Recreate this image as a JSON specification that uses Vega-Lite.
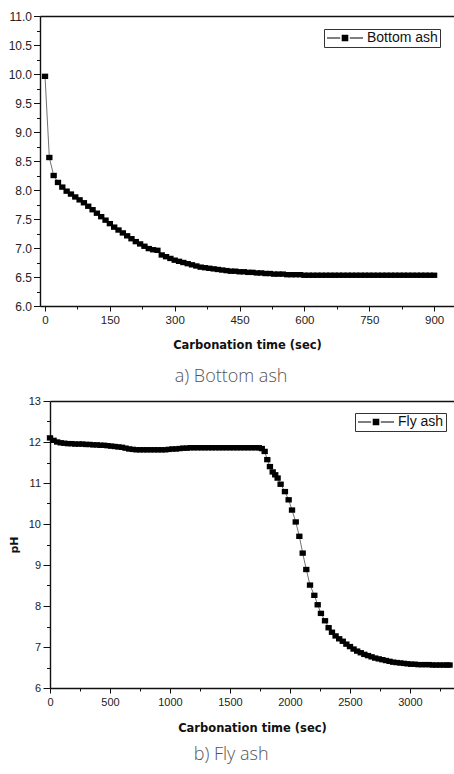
{
  "$schema": "https://vega.github.io/schema/vega-lite/v6.json",
  "background": "white",
  "padding": {"left": 8, "top": 10, "right": 0, "bottom": 4},
  "columns": 1,
  "spacing": 9,
  "config": {
    "view": {"stroke": null},
    "axis": {"grid": false, "domainColor": "#111", "domainWidth": 1.4, "tickColor": "#111", "tickWidth": 1, "labelColor": "#222", "labelFont": "Liberation Sans", "titleFont": "DejaVu Sans", "titleFontWeight": "bold", "titleColor": "#111", "labelOverlap": false, "labelFlush": false}
  },
  "resolve": {"scale": {"color": "independent"}, "legend": {"color": "independent"}},
  "concat": [
    {
      "width": 414,
      "height": 290,
      "title": {"text": "a) Bottom ash", "orient": "bottom", "frame": "bounds", "font": "Open Sans", "fontWeight": 300, "fontSize": 18, "color": "#555", "offset": 17, "anchor": "middle"},
      "data": {"values": [
        {"t": 0, "pH": 9.96, "s": "Bottom ash"}, {"t": 10, "pH": 8.56, "s": "Bottom ash"}, {"t": 20, "pH": 8.25, "s": "Bottom ash"}, {"t": 30, "pH": 8.13, "s": "Bottom ash"}, {"t": 40, "pH": 8.05, "s": "Bottom ash"}, {"t": 50, "pH": 7.98, "s": "Bottom ash"}, {"t": 60, "pH": 7.93, "s": "Bottom ash"}, {"t": 70, "pH": 7.88, "s": "Bottom ash"}, {"t": 80, "pH": 7.83, "s": "Bottom ash"}, {"t": 90, "pH": 7.78, "s": "Bottom ash"},
        {"t": 100, "pH": 7.72, "s": "Bottom ash"}, {"t": 110, "pH": 7.66, "s": "Bottom ash"}, {"t": 120, "pH": 7.6, "s": "Bottom ash"}, {"t": 130, "pH": 7.54, "s": "Bottom ash"}, {"t": 140, "pH": 7.48, "s": "Bottom ash"}, {"t": 150, "pH": 7.42, "s": "Bottom ash"}, {"t": 160, "pH": 7.36, "s": "Bottom ash"}, {"t": 170, "pH": 7.31, "s": "Bottom ash"}, {"t": 180, "pH": 7.26, "s": "Bottom ash"}, {"t": 190, "pH": 7.21, "s": "Bottom ash"},
        {"t": 200, "pH": 7.16, "s": "Bottom ash"}, {"t": 210, "pH": 7.11, "s": "Bottom ash"}, {"t": 220, "pH": 7.07, "s": "Bottom ash"}, {"t": 230, "pH": 7.03, "s": "Bottom ash"}, {"t": 240, "pH": 6.99, "s": "Bottom ash"}, {"t": 250, "pH": 6.97, "s": "Bottom ash"}, {"t": 260, "pH": 6.96, "s": "Bottom ash"}, {"t": 270, "pH": 6.88, "s": "Bottom ash"}, {"t": 280, "pH": 6.85, "s": "Bottom ash"}, {"t": 290, "pH": 6.82, "s": "Bottom ash"},
        {"t": 300, "pH": 6.79, "s": "Bottom ash"}, {"t": 310, "pH": 6.77, "s": "Bottom ash"}, {"t": 320, "pH": 6.75, "s": "Bottom ash"}, {"t": 330, "pH": 6.73, "s": "Bottom ash"}, {"t": 340, "pH": 6.71, "s": "Bottom ash"}, {"t": 350, "pH": 6.69, "s": "Bottom ash"}, {"t": 360, "pH": 6.67, "s": "Bottom ash"}, {"t": 370, "pH": 6.66, "s": "Bottom ash"}, {"t": 380, "pH": 6.65, "s": "Bottom ash"}, {"t": 390, "pH": 6.64, "s": "Bottom ash"},
        {"t": 400, "pH": 6.63, "s": "Bottom ash"}, {"t": 410, "pH": 6.62, "s": "Bottom ash"}, {"t": 420, "pH": 6.61, "s": "Bottom ash"}, {"t": 430, "pH": 6.6, "s": "Bottom ash"}, {"t": 440, "pH": 6.6, "s": "Bottom ash"}, {"t": 450, "pH": 6.59, "s": "Bottom ash"}, {"t": 460, "pH": 6.59, "s": "Bottom ash"}, {"t": 470, "pH": 6.58, "s": "Bottom ash"}, {"t": 480, "pH": 6.58, "s": "Bottom ash"}, {"t": 490, "pH": 6.57, "s": "Bottom ash"},
        {"t": 500, "pH": 6.57, "s": "Bottom ash"}, {"t": 510, "pH": 6.56, "s": "Bottom ash"}, {"t": 520, "pH": 6.56, "s": "Bottom ash"}, {"t": 530, "pH": 6.55, "s": "Bottom ash"}, {"t": 540, "pH": 6.55, "s": "Bottom ash"}, {"t": 550, "pH": 6.55, "s": "Bottom ash"}, {"t": 560, "pH": 6.54, "s": "Bottom ash"}, {"t": 570, "pH": 6.54, "s": "Bottom ash"}, {"t": 580, "pH": 6.54, "s": "Bottom ash"}, {"t": 590, "pH": 6.54, "s": "Bottom ash"},
        {"t": 600, "pH": 6.53, "s": "Bottom ash"}, {"t": 610, "pH": 6.53, "s": "Bottom ash"}, {"t": 620, "pH": 6.53, "s": "Bottom ash"}, {"t": 630, "pH": 6.53, "s": "Bottom ash"}, {"t": 640, "pH": 6.53, "s": "Bottom ash"}, {"t": 650, "pH": 6.53, "s": "Bottom ash"}, {"t": 660, "pH": 6.53, "s": "Bottom ash"}, {"t": 670, "pH": 6.53, "s": "Bottom ash"}, {"t": 680, "pH": 6.53, "s": "Bottom ash"}, {"t": 690, "pH": 6.53, "s": "Bottom ash"},
        {"t": 700, "pH": 6.53, "s": "Bottom ash"}, {"t": 710, "pH": 6.53, "s": "Bottom ash"}, {"t": 720, "pH": 6.53, "s": "Bottom ash"}, {"t": 730, "pH": 6.53, "s": "Bottom ash"}, {"t": 740, "pH": 6.53, "s": "Bottom ash"}, {"t": 750, "pH": 6.53, "s": "Bottom ash"}, {"t": 760, "pH": 6.53, "s": "Bottom ash"}, {"t": 770, "pH": 6.53, "s": "Bottom ash"}, {"t": 780, "pH": 6.53, "s": "Bottom ash"}, {"t": 790, "pH": 6.53, "s": "Bottom ash"},
        {"t": 800, "pH": 6.53, "s": "Bottom ash"}, {"t": 810, "pH": 6.53, "s": "Bottom ash"}, {"t": 820, "pH": 6.53, "s": "Bottom ash"}, {"t": 830, "pH": 6.53, "s": "Bottom ash"}, {"t": 840, "pH": 6.53, "s": "Bottom ash"}, {"t": 850, "pH": 6.53, "s": "Bottom ash"}, {"t": 860, "pH": 6.53, "s": "Bottom ash"}, {"t": 870, "pH": 6.53, "s": "Bottom ash"}, {"t": 880, "pH": 6.53, "s": "Bottom ash"}, {"t": 890, "pH": 6.53, "s": "Bottom ash"},
        {"t": 900, "pH": 6.53, "s": "Bottom ash"}
      ]},
      "layer": [
        {
          "mark": {"type": "line", "color": "#333", "strokeWidth": 0.7},
          "encoding": {
            "x": {"field": "t", "type": "quantitative", "scale": {"domain": [-11.6, 946], "nice": false, "zero": false},
              "axis": {"orient": "bottom", "title": "Carbonation time (sec)", "titleFontSize": 11.5, "titlePadding": 14,
                "values": [0, 150, 300, 450, 600, 750, 900], "format": "d", "tickSize": 5, "labelFontSize": 11.5, "labelPadding": 3}},
            "y": {"field": "pH", "type": "quantitative", "scale": {"domain": [6, 11], "nice": false, "zero": false},
              "axis": {"orient": "left", "title": null, "values": [6, 6.5, 7, 7.5, 8, 8.5, 9, 9.5, 10, 10.5, 11], "format": ".1f",
                "tickSize": 6.5, "labelFontSize": 12, "labelPadding": 2}}
          }
        },
        {
          "mark": {"type": "point", "filled": true, "opacity": 1, "shape": "M-1,-0.85H1V0.85H-1Z", "size": 40},
          "encoding": {
            "x": {"field": "t", "type": "quantitative",
              "axis": {"orient": "bottom", "title": null, "labels": false, "domain": false, "tickSize": 3, "values": [75, 225, 375, 525, 675, 825]}},
            "y": {"field": "pH", "type": "quantitative",
              "axis": {"orient": "left", "title": null, "labels": false, "domain": false, "tickSize": 3.5,
                "values": [6.25, 6.75, 7.25, 7.75, 8.25, 8.75, 9.25, 9.75, 10.25, 10.75]}},
            "color": {"field": "s", "type": "nominal", "scale": {"range": ["black"]},
              "legend": {"title": null, "orient": "none", "legendX": 284, "legendY": 13, "strokeColor": "#333", "fillColor": "white", "padding": 2, "cornerRadius": 0,
                "symbolType": "M-1,-0.08H1.2V0.08H-1Z M2.8,-0.08H5V0.08H2.8Z M1.45,-0.55H2.55V0.55H1.45Z",
                "symbolSize": 144, "symbolStrokeWidth": 0, "symbolFillColor": "black", "symbolOpacity": 1,
                "labelOffset": 27, "labelFont": "Liberation Sans", "labelFontSize": 14, "labelColor": "#111"}}
          }
        },
        {
          "mark": {"type": "line", "opacity": 0},
          "encoding": {
            "x": {"field": "t", "type": "quantitative",
              "axis": {"orient": "top", "title": null, "labels": false, "ticks": false, "domain": true}},
            "y": {"field": "pH", "type": "quantitative", "axis": null}
          }
        }
      ],
      "resolve": {"axis": {"x": "independent", "y": "independent"}}
    },
    {
      "width": 414,
      "height": 287,
      "title": {"text": "b) Fly ash", "orient": "bottom", "frame": "bounds", "font": "Open Sans", "fontWeight": 300, "fontSize": 18, "color": "#555", "offset": 12, "anchor": "middle"},
      "data": {"values": [
        {"t": 0, "pH": 12.1, "s": "Fly ash"}, {"t": 30, "pH": 12.04, "s": "Fly ash"}, {"t": 60, "pH": 12.0, "s": "Fly ash"}, {"t": 90, "pH": 11.98, "s": "Fly ash"}, {"t": 120, "pH": 11.97, "s": "Fly ash"}, {"t": 150, "pH": 11.96, "s": "Fly ash"}, {"t": 180, "pH": 11.96, "s": "Fly ash"}, {"t": 210, "pH": 11.95, "s": "Fly ash"}, {"t": 240, "pH": 11.95, "s": "Fly ash"}, {"t": 270, "pH": 11.95, "s": "Fly ash"},
        {"t": 300, "pH": 11.94, "s": "Fly ash"}, {"t": 330, "pH": 11.94, "s": "Fly ash"}, {"t": 360, "pH": 11.93, "s": "Fly ash"}, {"t": 390, "pH": 11.93, "s": "Fly ash"}, {"t": 420, "pH": 11.92, "s": "Fly ash"}, {"t": 450, "pH": 11.92, "s": "Fly ash"}, {"t": 480, "pH": 11.91, "s": "Fly ash"}, {"t": 510, "pH": 11.9, "s": "Fly ash"}, {"t": 540, "pH": 11.89, "s": "Fly ash"}, {"t": 570, "pH": 11.88, "s": "Fly ash"},
        {"t": 600, "pH": 11.87, "s": "Fly ash"}, {"t": 630, "pH": 11.85, "s": "Fly ash"}, {"t": 660, "pH": 11.83, "s": "Fly ash"}, {"t": 690, "pH": 11.82, "s": "Fly ash"}, {"t": 720, "pH": 11.81, "s": "Fly ash"}, {"t": 750, "pH": 11.81, "s": "Fly ash"}, {"t": 780, "pH": 11.81, "s": "Fly ash"}, {"t": 810, "pH": 11.81, "s": "Fly ash"}, {"t": 840, "pH": 11.81, "s": "Fly ash"}, {"t": 870, "pH": 11.81, "s": "Fly ash"},
        {"t": 900, "pH": 11.81, "s": "Fly ash"}, {"t": 930, "pH": 11.81, "s": "Fly ash"}, {"t": 960, "pH": 11.81, "s": "Fly ash"}, {"t": 990, "pH": 11.82, "s": "Fly ash"}, {"t": 1020, "pH": 11.83, "s": "Fly ash"}, {"t": 1050, "pH": 11.83, "s": "Fly ash"}, {"t": 1080, "pH": 11.84, "s": "Fly ash"}, {"t": 1110, "pH": 11.85, "s": "Fly ash"}, {"t": 1140, "pH": 11.85, "s": "Fly ash"}, {"t": 1170, "pH": 11.86, "s": "Fly ash"},
        {"t": 1200, "pH": 11.86, "s": "Fly ash"}, {"t": 1230, "pH": 11.86, "s": "Fly ash"}, {"t": 1260, "pH": 11.86, "s": "Fly ash"}, {"t": 1290, "pH": 11.86, "s": "Fly ash"}, {"t": 1320, "pH": 11.86, "s": "Fly ash"}, {"t": 1350, "pH": 11.86, "s": "Fly ash"}, {"t": 1380, "pH": 11.86, "s": "Fly ash"}, {"t": 1410, "pH": 11.86, "s": "Fly ash"}, {"t": 1440, "pH": 11.86, "s": "Fly ash"}, {"t": 1470, "pH": 11.86, "s": "Fly ash"},
        {"t": 1500, "pH": 11.86, "s": "Fly ash"}, {"t": 1530, "pH": 11.86, "s": "Fly ash"}, {"t": 1560, "pH": 11.86, "s": "Fly ash"}, {"t": 1590, "pH": 11.86, "s": "Fly ash"}, {"t": 1620, "pH": 11.86, "s": "Fly ash"}, {"t": 1650, "pH": 11.86, "s": "Fly ash"}, {"t": 1680, "pH": 11.86, "s": "Fly ash"}, {"t": 1710, "pH": 11.86, "s": "Fly ash"}, {"t": 1740, "pH": 11.86, "s": "Fly ash"}, {"t": 1765, "pH": 11.84, "s": "Fly ash"},
        {"t": 1789, "pH": 11.77, "s": "Fly ash"}, {"t": 1811, "pH": 11.57, "s": "Fly ash"}, {"t": 1833, "pH": 11.4, "s": "Fly ash"}, {"t": 1856, "pH": 11.27, "s": "Fly ash"}, {"t": 1877, "pH": 11.2, "s": "Fly ash"}, {"t": 1897, "pH": 11.12, "s": "Fly ash"}, {"t": 1922, "pH": 10.97, "s": "Fly ash"}, {"t": 1958, "pH": 10.79, "s": "Fly ash"}, {"t": 1989, "pH": 10.59, "s": "Fly ash"}, {"t": 2017, "pH": 10.34, "s": "Fly ash"},
        {"t": 2048, "pH": 10.05, "s": "Fly ash"}, {"t": 2078, "pH": 9.7, "s": "Fly ash"}, {"t": 2106, "pH": 9.29, "s": "Fly ash"}, {"t": 2136, "pH": 8.89, "s": "Fly ash"}, {"t": 2167, "pH": 8.51, "s": "Fly ash"}, {"t": 2203, "pH": 8.26, "s": "Fly ash"}, {"t": 2231, "pH": 8.03, "s": "Fly ash"}, {"t": 2258, "pH": 7.82, "s": "Fly ash"}, {"t": 2292, "pH": 7.64, "s": "Fly ash"}, {"t": 2322, "pH": 7.47, "s": "Fly ash"},
        {"t": 2350, "pH": 7.36, "s": "Fly ash"}, {"t": 2380, "pH": 7.27, "s": "Fly ash"}, {"t": 2410, "pH": 7.2, "s": "Fly ash"}, {"t": 2440, "pH": 7.14, "s": "Fly ash"}, {"t": 2470, "pH": 7.07, "s": "Fly ash"}, {"t": 2500, "pH": 7.01, "s": "Fly ash"}, {"t": 2530, "pH": 6.95, "s": "Fly ash"}, {"t": 2560, "pH": 6.9, "s": "Fly ash"}, {"t": 2590, "pH": 6.86, "s": "Fly ash"}, {"t": 2620, "pH": 6.82, "s": "Fly ash"},
        {"t": 2650, "pH": 6.79, "s": "Fly ash"}, {"t": 2680, "pH": 6.76, "s": "Fly ash"}, {"t": 2710, "pH": 6.73, "s": "Fly ash"}, {"t": 2740, "pH": 6.71, "s": "Fly ash"}, {"t": 2770, "pH": 6.69, "s": "Fly ash"}, {"t": 2800, "pH": 6.67, "s": "Fly ash"}, {"t": 2830, "pH": 6.65, "s": "Fly ash"}, {"t": 2860, "pH": 6.63, "s": "Fly ash"}, {"t": 2890, "pH": 6.62, "s": "Fly ash"}, {"t": 2920, "pH": 6.61, "s": "Fly ash"},
        {"t": 2950, "pH": 6.6, "s": "Fly ash"}, {"t": 2980, "pH": 6.59, "s": "Fly ash"}, {"t": 3010, "pH": 6.58, "s": "Fly ash"}, {"t": 3040, "pH": 6.58, "s": "Fly ash"}, {"t": 3070, "pH": 6.57, "s": "Fly ash"}, {"t": 3100, "pH": 6.57, "s": "Fly ash"}, {"t": 3130, "pH": 6.57, "s": "Fly ash"}, {"t": 3160, "pH": 6.57, "s": "Fly ash"}, {"t": 3190, "pH": 6.56, "s": "Fly ash"}, {"t": 3220, "pH": 6.56, "s": "Fly ash"},
        {"t": 3250, "pH": 6.56, "s": "Fly ash"}, {"t": 3280, "pH": 6.56, "s": "Fly ash"}, {"t": 3310, "pH": 6.56, "s": "Fly ash"}, {"t": 3330, "pH": 6.56, "s": "Fly ash"}
      ]},
      "layer": [
        {
          "mark": {"type": "line", "color": "#333", "strokeWidth": 0.7},
          "encoding": {
            "x": {"field": "t", "type": "quantitative", "scale": {"domain": [0, 3367], "range": [10, 414], "nice": false, "zero": false},
              "axis": {"orient": "bottom", "title": "Carbonation time (sec)", "titleFontSize": 11.5, "titlePadding": 15,
                "values": [0, 500, 1000, 1500, 2000, 2500, 3000], "format": "d", "tickSize": 5, "labelFontSize": 11, "labelPadding": 3}},
            "y": {"field": "pH", "type": "quantitative", "scale": {"domain": [6, 13], "nice": false, "zero": false},
              "axis": {"orient": "left", "offset": -10, "title": "pH", "titleFontSize": 11, "titlePadding": 9,
                "values": [6, 7, 8, 9, 10, 11, 12, 13], "tickSize": 7, "labelFontSize": 11, "labelPadding": 2.5}}
          }
        },
        {
          "mark": {"type": "point", "filled": true, "opacity": 1, "shape": "M-1,-0.85H1V0.85H-1Z", "size": 40},
          "encoding": {
            "x": {"field": "t", "type": "quantitative",
              "axis": {"orient": "bottom", "title": null, "labels": false, "domain": false, "tickSize": 3, "values": [250, 750, 1250, 1750, 2250, 2750, 3250]}},
            "y": {"field": "pH", "type": "quantitative",
              "axis": {"orient": "left", "offset": -10, "title": null, "labels": false, "domain": false, "tickSize": 3.5,
                "values": [6.5, 7.5, 8.5, 9.5, 10.5, 11.5, 12.5]}},
            "color": {"field": "s", "type": "nominal", "scale": {"range": ["black"]},
              "legend": {"title": null, "orient": "none", "legendX": 315, "legendY": 12, "strokeColor": "#333", "fillColor": "white", "padding": 2, "cornerRadius": 0,
                "symbolType": "M-1,-0.08H1.2V0.08H-1Z M2.8,-0.08H5V0.08H2.8Z M1.45,-0.55H2.55V0.55H1.45Z",
                "symbolSize": 144, "symbolStrokeWidth": 0, "symbolFillColor": "black", "symbolOpacity": 1,
                "labelOffset": 27, "labelFont": "Liberation Sans", "labelFontSize": 14, "labelColor": "#111"}}
          }
        },
        {
          "mark": {"type": "line", "opacity": 0},
          "encoding": {
            "x": {"field": "t", "type": "quantitative",
              "axis": {"orient": "top", "title": null, "labels": false, "ticks": false, "domain": true}},
            "y": {"field": "pH", "type": "quantitative", "axis": null}
          }
        }
      ],
      "resolve": {"axis": {"x": "independent", "y": "independent"}}
    }
  ]
}
